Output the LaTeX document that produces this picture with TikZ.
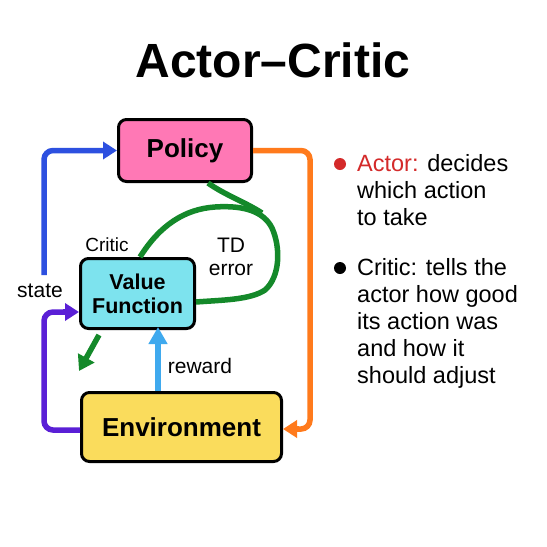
\documentclass[tikz,border=0pt]{standalone}
\usepackage{fontspec}
\setmainfont{Liberation Sans}
\usetikzlibrary{arrows.meta,calc}
\definecolor{cpink}{HTML}{FF78B5}
\definecolor{ccyan}{HTML}{7DE3EE}
\definecolor{cyell}{HTML}{FADC5C}
\definecolor{cblue}{HTML}{2D50E0}
\definecolor{cpurp}{HTML}{5A1FD6}
\definecolor{corng}{HTML}{FF7A1C}
\definecolor{cgrn}{HTML}{14892A}
\definecolor{clblue}{HTML}{3FA9EE}
\definecolor{cred}{HTML}{D42A2A}
\tikzset{
  box/.style={draw=black, line width=3pt, rounded corners=8pt, inner sep=0pt, align=center, font=\bfseries},
  flowline/.style={line width=5.5pt, rounded corners=9pt, shorten >=12pt},
  tipped/.style={line width=5.5pt, -{Triangle[length=14pt,width=17pt]}},
  loop/.style={line width=5.5pt, cgrn},
  lbl/.style={inner sep=0pt, align=center, font=\fontsize{20}{23}\selectfont},
  bul/.style={inner sep=0pt, align=left, anchor=north west, font=\fontsize{23.5}{27}\selectfont},
}
\begin{document}
\begin{tikzpicture}[x=1pt,y=-1pt]
\useasboundingbox (0,0) rectangle (547,547);
\fill[white] (0,0) rectangle (547,547);

\node[inner sep=0pt, anchor=base, font=\fontsize{48}{50}\selectfont\bfseries] (title) at (273,77) {Actor–Critic};

\node[box, fill=cpink, minimum width=133pt, minimum height=62pt, font=\fontsize{26}{28}\selectfont\bfseries] (pol) at (185,150.5) {Policy};
\node[box, fill=ccyan, minimum width=114pt, minimum height=70pt, font=\fontsize{21.5}{24}\selectfont\bfseries] (vf) at (137.5,293.5) {Value\\Function};
\node[box, fill=cyell, minimum width=200pt, minimum height=69pt, font=\fontsize{26}{28}\selectfont\bfseries] (env) at (181.5,427) {Environment};

% blue state -> policy
\coordinate (bs) at (44,275);
\draw[flowline, cblue] (bs) |- (pol.west);
\draw[tipped, cblue] ([xshift=-16pt]pol.west) -- (pol.west);
\node[lbl, font=\fontsize{21}{24}\selectfont] (state) at (40,291) {state};

% purple env -> value function
\coordinate (pc) at (44,312);
\draw[flowline, cpurp] ([yshift=-3pt]env.west) -| (pc) -- (pc -| vf.west);
\draw[tipped, cpurp] ([xshift=-16pt]pc -| vf.west) -- (pc -| vf.west);

% orange policy -> env
\coordinate (oc) at (310,300);
\coordinate (oe) at ([yshift=-2pt]env.east);
\draw[flowline, corng] (pol.east) -| (oc) |- (oe);
\draw[tipped, corng] ([xshift=16pt]oe) -- (oe);

% light blue reward
\coordinate (rx) at (158,0);
\draw[line width=6pt, clblue, -{Triangle[length=17pt,width=18pt]}] (env.north -| rx) -- ([yshift=3pt]vf.south -| rx);
\node[lbl, font=\fontsize{21}{24}\selectfont] (rew) at (200,366) {reward};

% green TD-error loop
\draw[loop] (vf.north -| 140,0) .. controls (160,225) and (185,209) .. (215,207)
  .. controls (245,205) and (264,212) .. (272,228)
  .. controls (281,248) and (280,277) .. (265,290)
  .. controls (250,300) and (222,300) .. (vf.east |- 0,302);
\draw[loop] (pol.south -| 208,0) .. controls (225,195) and (245,202) .. (262,213);

% green arrow down-left
\coordinate (g1) at (99,335);
\coordinate (g2) at (79,371);
\draw[line width=5.5pt, cgrn, -{Triangle[length=15pt,width=18pt]}] (g1) -- (g2);

\node[lbl, font=\fontsize{19}{22}\selectfont] (critic) at (107,245) {Critic};
\node[lbl, font=\fontsize{21}{23}\selectfont] (td) at (231,257) {TD\\error};

% bullets
\node[circle, fill=cred, inner sep=0pt, minimum size=12pt] (d1) at (340,164) {};
\node[circle, fill=black, inner sep=0pt, minimum size=12pt] (d2) at (340,268) {};
\node[bul] (t1) at (357,154) {\textcolor{cred}{Actor:} decides\\which action\\to take};
\node[bul] (t2) at (357,258) {Critic: tells the\\actor how good\\its action was\\and how it\\should adjust};
\end{tikzpicture}
\end{document}
